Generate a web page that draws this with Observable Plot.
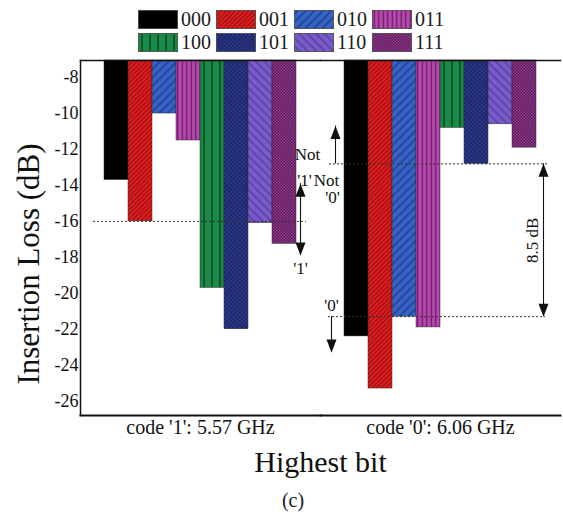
<!DOCTYPE html>
<html>
<head>
<meta charset="utf-8">
<script src="https://cdn.jsdelivr.net/npm/d3@7"></script>
<script src="https://cdn.jsdelivr.net/npm/@observablehq/plot@0.6"></script>
<style>
  html, body { margin: 0; padding: 0; background: #fff; }
  body { width: 563px; font-family: 'Liberation Serif', 'Times New Roman', serif; color: #1a1a1a; }
  #legend { position: relative; height: 56px; }
  #legend .grid { position: absolute; left: 138px; top: 10px; display: grid;
    grid-template-columns: repeat(4, 78px); row-gap: 4px; }
  #legend .item { display: flex; align-items: center; height: 19px; }
  #legend .item svg { width: 40px; height: 19px; display: block; }
  #legend .item span { margin-left: 3px; font-size: 20px; line-height: 19px; }
  #caption { height: 32px; box-sizing: border-box; padding-left: 23px; text-align: center;
    font-size: 20px; line-height: 20px; padding-top: 10px; }
</style>
</head>
<body>
<svg id="defs" width="0" height="0" style="position:absolute"><defs></defs></svg>
<div id="legend"><div class="grid"></div></div>
<div id="chart"></div>
<div id="caption">(c)</div>
<script>
// ---------------- data ----------------
const groups = ["code '1': 5.57 GHz", "code '0': 6.06 GHz"];
const codes = ["000", "001", "010", "011", "100", "101", "110", "111"];
const lossCode1 = [-13.7, -16.0, -10.0, -11.5, -19.7, -22.0, -16.1, -17.25];
const lossCode0 = [-22.4, -25.3, -21.3, -21.9, -10.8, -12.8, -10.6, -11.9];
const yTicks = [-8, -10, -12, -14, -16, -18, -20, -22, -24, -26];
const yDomain = [-26.8, -7.05];

// annotation levels (dB)
const level1 = lossCode1[1];          // '1' threshold
const levelNot0 = lossCode0[5];       // highest loss of the "not 0" set
const level0 = lossCode0[2];          // lowest loss of the "0" set
const arrow1 = [-13.9, -17.9];        // double arrow for code '1'
const arrowUp0 = -10.7;               // tip of the "Not '0'" arrow
const arrowDown0 = -23.3;             // tip of the "'0'" arrow

// ---------------- styles (patterns) ----------------
const patternStyle = {
  "000": {bg: "#000000"},
  "001": {bg: "#e2201f", line: "#8e0b10", size: 3.2, angle: 45, width: 1.1},
  "010": {bg: "#3464c4", line: "#1c2f78", size: 6, angle: 45, width: 1.1},
  "011": {bg: "#b64aad", line: "#6a1968", size: 4.5, angle: 0, width: 1.3},
  "100": {bg: "#178b47", line: "#0b4a22", size: 8, angle: 0, width: 1.6},
  "101": {bg: "#1b2367", line: "#303f8f", size: 3, angle: 45, width: 0.7, cross: true},
  "110": {bg: "#7a5cc9", line: "#4a3393", size: 6, angle: -45, width: 1.1},
  "111": {bg: "#5a1658", dot: "#8f3d8c", size: 3}
};
const defs = d3.select("#defs defs");
for (const code of codes) {
  const s = patternStyle[code];
  const p = defs.append("pattern").attr("id", "pat" + code)
    .attr("patternUnits", "userSpaceOnUse")
    .attr("width", s.size || 4).attr("height", s.size || 4);
  if (s.angle) p.attr("patternTransform", `rotate(${s.angle})`);
  p.append("rect").attr("width", s.size || 4).attr("height", s.size || 4).attr("fill", s.bg);
  if (s.line) {
    p.append("line").attr("x1", s.size / 2).attr("x2", s.size / 2).attr("y1", 0).attr("y2", s.size)
      .attr("stroke", s.line).attr("stroke-width", s.width);
    if (s.cross) p.append("line").attr("y1", s.size / 2).attr("y2", s.size / 2).attr("x1", 0).attr("x2", s.size)
      .attr("stroke", s.line).attr("stroke-width", s.width);
  }
  if (s.dot) {
    p.append("rect").attr("x", 0).attr("y", 0).attr("width", s.size / 2).attr("height", s.size / 2).attr("fill", s.dot);
    p.append("rect").attr("x", s.size / 2).attr("y", s.size / 2).attr("width", s.size / 2).attr("height", s.size / 2).attr("fill", s.dot);
  }
}
const fillOf = (code) => `url(#pat${code})`;

// ---------------- legend ----------------
const grid = d3.select("#legend .grid");
for (const code of codes) {
  const item = grid.append("div").attr("class", "item");
  const sw = item.append("svg").attr("viewBox", "0 0 40 19");
  sw.append("rect").attr("x", 0.4).attr("y", 0.4).attr("width", 39.2).attr("height", 18.2)
    .attr("fill", fillOf(code)).attr("stroke", "#444").attr("stroke-width", 0.8);
  item.append("span").text(code);
}

// ---------------- chart ----------------
const bars = groups.flatMap((g, gi) =>
  codes.map((c, i) => ({group: g, code: c, loss: [lossCode1, lossCode0][gi][i]})));
const [g1, g2] = groups;
const ink = "#111";
const font = "'Liberation Serif', 'Times New Roman', serif";

const shaft = (group, code, y1, y2, dx) =>
  Plot.ruleX([{group, code, y1, y2}], {fx: "group", x: "code", y1: "y1", y2: "y2", dx, stroke: ink, strokeWidth: 1.1});
const head = (group, code, y, dx, down) =>
  Plot.vector([{group, code, y}], {fx: "group", x: "code", y: "y", dx, shape: "spike", anchor: "end",
    length: 13, r: 5, rotate: down ? 180 : 0, fill: ink, stroke: "none"});
const label = (group, code, y, text, dx, extra = {}) =>
  Plot.text([{group, code, y, text}], {fx: "group", x: "code", y: "y", text: "text", dx,
    fontSize: 17, fill: ink, ...extra});
const hline = (group, y, insetLeft, insetRight) =>
  Plot.ruleY([{group, y}], {fx: "group", y: "y", insetLeft, insetRight, stroke: "#333",
    strokeWidth: 1, strokeDasharray: "2,2"});

const mid1 = (arrow1[0] + arrow1[1]) / 2;
const mid85 = (levelNot0 + level0) / 2;

const chart = Plot.plot({
  width: 563,
  height: 424,
  marginLeft: 80,
  marginRight: 3,
  marginTop: 4,
  marginBottom: 65,
  style: {fontFamily: font, background: "white", color: ink, overflow: "visible"},
  fx: {domain: groups, padding: 0, axis: null, label: null},
  x: {domain: codes, paddingInner: 0, paddingOuter: 1, axis: null, label: null},
  y: {domain: yDomain, axis: null},
  marks: [
    Plot.barY(bars, {fx: "group", x: "code", y1: () => yDomain[1], y2: "loss",
      fill: (d) => fillOf(d.code), stroke: "#2a2a2a", strokeWidth: 0.5}),
    // frame
    Plot.frame({anchor: "top", stroke: ink, strokeWidth: 1.5}),
    Plot.frame({anchor: "bottom", stroke: ink, strokeWidth: 2}),
    Plot.frame({anchor: "left", facetAnchor: "left", stroke: ink, strokeWidth: 1.5}),
    Plot.axisY(yTicks, {tickSize: 0, tickPadding: 2, fontSize: 18, label: null,
      tickFormat: (d) => String(d)}),
    // dotted reference lines
    hline(g1, level1, 13, 14),
    hline(g2, levelNot0, 9, 13),
    hline(g2, level0, 8, 15),
    // code '1' double arrow
    shaft(g1, "111", mid1, arrow1[0], 16),
    shaft(g1, "111", mid1, arrow1[1], 16),
    head(g1, "111", arrow1[0], 16, false),
    head(g1, "111", arrow1[1], 16, true),
    label(g1, "111", -12.28, "Not", 23),
    label(g1, "111", -13.72, "'1'", 20),
    label(g1, "111", -18.6, "'1'", 16),
    // code '0' arrows
    shaft(g2, "000", levelNot0, arrowUp0, -21),
    head(g2, "000", arrowUp0, -21, false),
    label(g2, "000", -13.72, "Not", -30),
    label(g2, "000", -14.67, "'0'", -24),
    label(g2, "000", -20.67, "'0'", -25),
    shaft(g2, "000", level0, arrowDown0, -25),
    head(g2, "000", arrowDown0, -25, true),
    // 8.5 dB
    shaft(g2, "111", mid85, levelNot0, 19),
    shaft(g2, "111", mid85, level0, 19),
    head(g2, "111", levelNot0, 19, false),
    head(g2, "111", level0, 19, true),
    label(g2, "111", mid85, `${(levelNot0 - level0).toFixed(1)} dB`, 8, {rotate: -90}),
    // group labels & axis titles
    Plot.text(groups, {fx: (d) => d, text: (d) => d, frameAnchor: "bottom", lineAnchor: "middle",
      dy: 12, fontSize: 20, fill: ink}),
    Plot.text(["Highest bit"], {frameAnchor: "bottom", textAnchor: "middle", lineAnchor: "middle", dy: 47,
      fontSize: 30, fill: ink, facet: "super"}),
    Plot.text(["Insertion Loss (dB)"], {frameAnchor: "left", textAnchor: "middle", lineAnchor: "middle",
      rotate: -90, dx: -51, dy: 26, fontSize: 31, fill: ink, facet: "super"})
  ]
});
document.getElementById("chart").appendChild(chart);
</script>
</body>
</html>
